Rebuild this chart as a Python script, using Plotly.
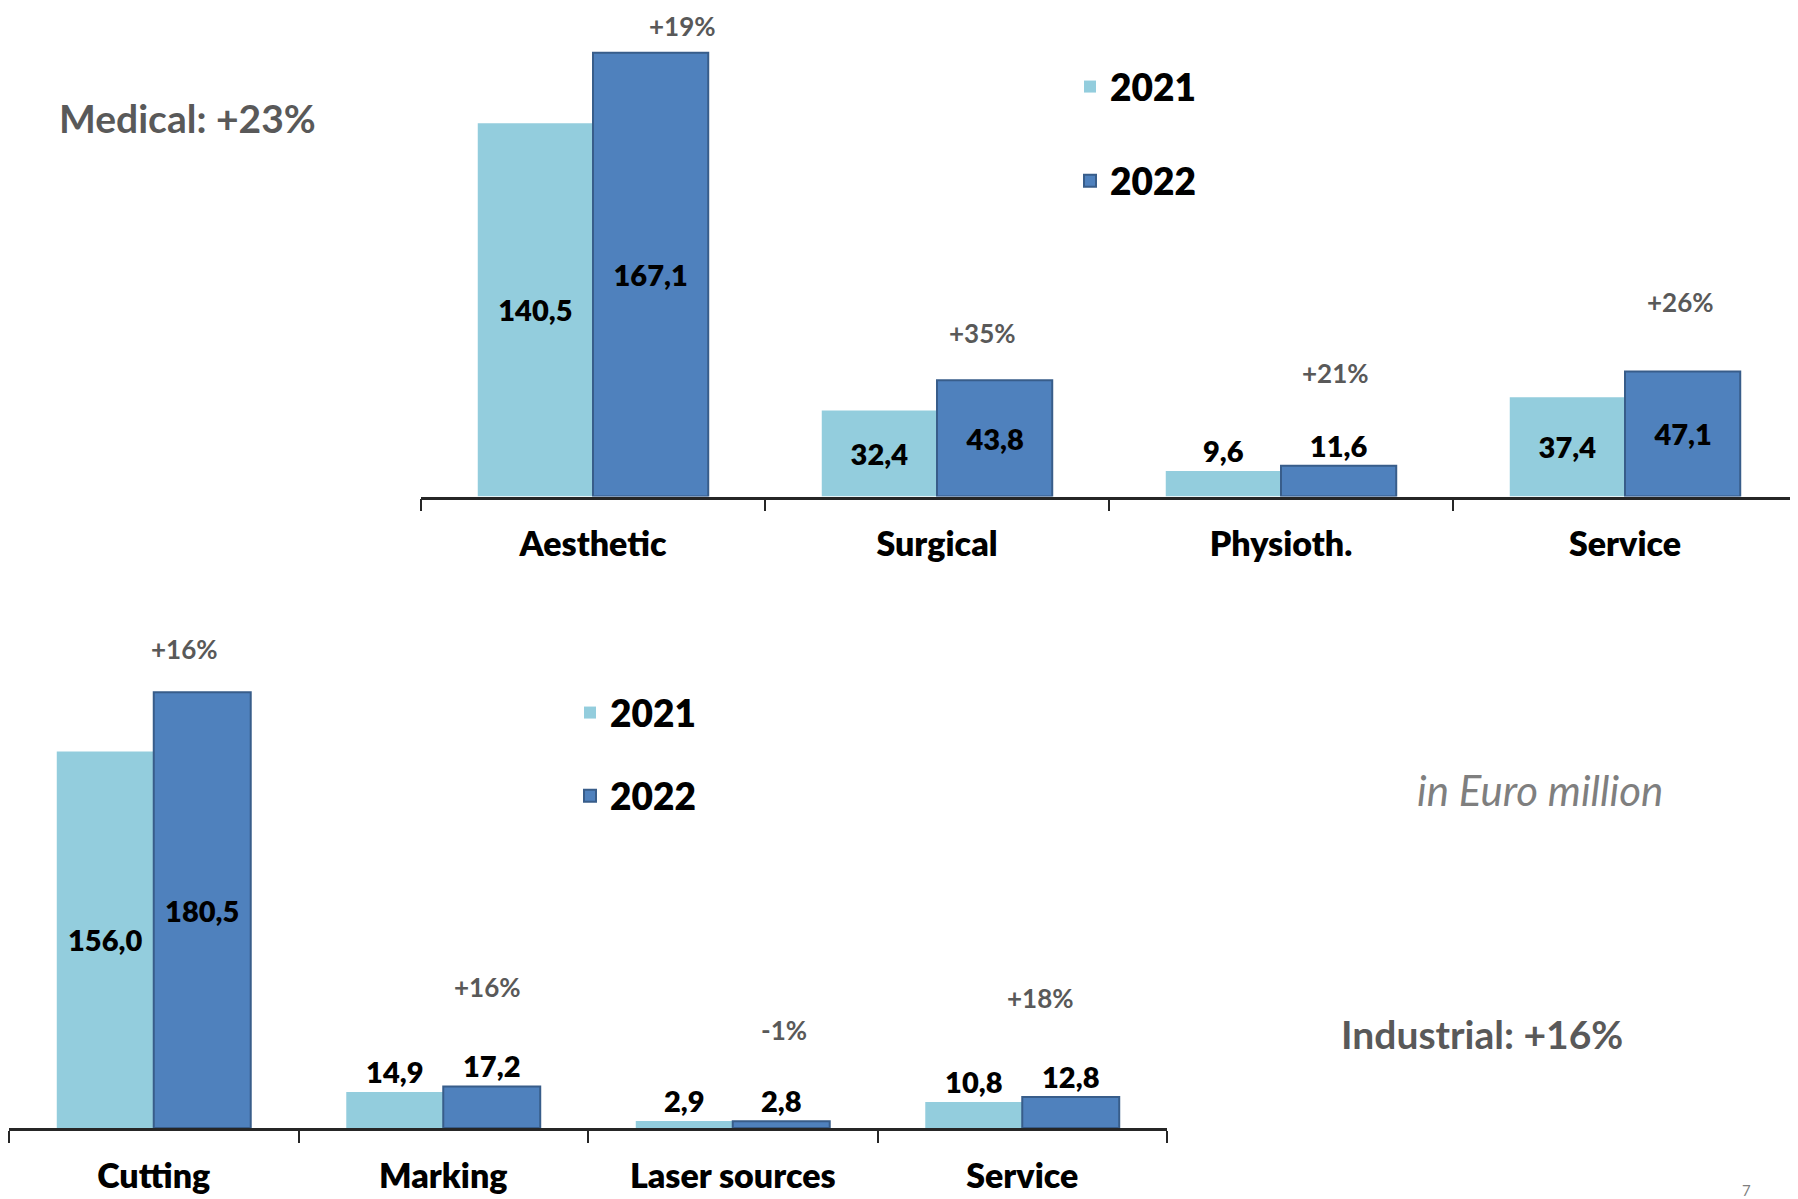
import plotly.graph_objects as go

# ---------------- data ----------------
med_categories = ["Aesthetic", "Surgical", "Physioth.", "Service"]
med_2021 = [140.5, 32.4, 9.6, 37.4]
med_2022 = [167.1, 43.8, 11.6, 47.1]
med_growth = ["+19%", "+35%", "+21%", "+26%"]

ind_categories = ["Cutting", "Marking", "Laser sources", "Service"]
ind_2021 = [156.0, 14.9, 2.9, 10.8]
ind_2022 = [180.5, 17.2, 2.8, 12.8]
ind_growth = ["+16%", "+16%", "-1%", "+18%"]

years = ["2021", "2022"]

# ---------------- styles / positions ----------------
C21 = "#93CDDD"
C22 = "#4F81BD"
C22_LINE = "#385D8A"
GREY = "#595959"
FONT = "Lato"
W = 1798
H = 1199
OFF = 8  # page body margin


def px_x(x):
    return (x - OFF) / W


def px_y(y):
    return 1 - (y - OFF) / H


med_text_pos_21 = ["inside", "inside", "outside", "inside"]
med_text_pos_22 = ["inside", "inside", "outside", "inside"]
ind_text_pos_21 = ["inside", "outside", "outside", "outside"]
ind_text_pos_22 = ["inside", "outside", "outside", "outside"]

# growth-label placement (category offset, height in axis units)
med_growth_dx = [0.26, 0.133, 0.157, 0.16]
med_growth_y = [177.0, 61.7, 46.6, 73.4]
ind_growth_dx = [0.105, 0.154, 0.178, 0.063]
ind_growth_y = [198.6, 58.4, 40.4, 53.7]

label_font = dict(family=FONT, size=29, color="black", weight=800)
growth_font = dict(family=FONT, size=26, color=GREY, weight=700)

fig = go.Figure()


def add_bars(cats, v21, v22, pos21, pos22, xa, ya, legend):
    fig.add_trace(go.Bar(
        x=cats, y=v21, name=years[0], xaxis=xa, yaxis=ya, legend=legend,
        legendgroup=legend + "a",
        marker=dict(color=C21, line=dict(width=0)),
        texttemplate="%{y:.1f}", textposition=pos21, insidetextanchor="middle",
        textfont=label_font, insidetextfont=label_font, outsidetextfont=label_font,
        constraintext="none", cliponaxis=False, hoverinfo="skip",
    ))
    fig.add_trace(go.Bar(
        x=cats, y=v22, name=years[1], xaxis=xa, yaxis=ya, legend=legend,
        legendgroup=legend + "b",
        marker=dict(color=C22, line=dict(width=2, color=C22_LINE)),
        texttemplate="%{y:.1f}", textposition=pos22, insidetextanchor="middle",
        textfont=label_font, insidetextfont=label_font, outsidetextfont=label_font,
        constraintext="none", cliponaxis=False, hoverinfo="skip",
    ))


add_bars(med_categories, med_2021, med_2022, med_text_pos_21, med_text_pos_22,
         "x", "y", "legend")
add_bars(ind_categories, ind_2021, ind_2022, ind_text_pos_21, ind_text_pos_22,
         "x2", "y2", "legend2")

annotations = []
for i, (t, dx, yv) in enumerate(zip(med_growth, med_growth_dx, med_growth_y)):
    annotations.append(dict(x=i + dx, y=yv, xref="x", yref="y", text=t,
                            showarrow=False, font=growth_font))
for i, (t, dx, yv) in enumerate(zip(ind_growth, ind_growth_dx, ind_growth_y)):
    annotations.append(dict(x=i + dx, y=yv, xref="x2", yref="y2", text=t,
                            showarrow=False, font=growth_font))

annotations += [
    dict(x=px_x(57), y=px_y(118), xref="paper", yref="paper", xanchor="left", yanchor="middle",
         text="Medical: +23%", showarrow=False,
         font=dict(family=FONT, size=39, color=GREY, weight=700)),
    dict(x=px_x(1339), y=px_y(1034), xref="paper", yref="paper", xanchor="left", yanchor="middle",
         text="Industrial: +16%", showarrow=False,
         font=dict(family=FONT, size=39, color=GREY, weight=700)),
    dict(x=px_x(1415), y=px_y(790), xref="paper", yref="paper", xanchor="left", yanchor="middle",
         text="<i>in Euro million</i>", showarrow=False,
         font=dict(family=FONT, size=42, color="#7F7F7F")),
    dict(x=px_x(1746), y=px_y(1190), xref="paper", yref="paper", xanchor="center", yanchor="middle",
         text="7", showarrow=False,
         font=dict(family=FONT, size=15, color="#7F7F7F")),
]

xaxis_common = dict(
    type="category", showline=True, linecolor="#262626", linewidth=2.5,
    ticks="outside", tickson="boundaries", ticklen=12, tickwidth=2, tickcolor="#262626",
    showgrid=False, zeroline=False, fixedrange=True, ticklabelstandoff=16,
    tickfont=dict(family=FONT, size=34, color="black", weight=800),
)
yaxis_common = dict(visible=False, showgrid=False, zeroline=False, fixedrange=True)

legend_common = dict(
    font=dict(family=FONT, size=37, color="black", weight=800),
    bgcolor="rgba(0,0,0,0)", borderwidth=0, traceorder="grouped",
    xanchor="left", yanchor="top", itemclick=False, itemdoubleclick=False,
)

fig.update_layout(
    width=W, height=H,
    margin=dict(l=0, r=0, t=0, b=0),
    paper_bgcolor="white", plot_bgcolor="rgba(0,0,0,0)",
    separators=",.",
    barmode="group", bargap=0.33, bargroupgap=0,
    xaxis=dict(domain=[px_x(421), px_x(1797)], anchor="y", **xaxis_common),
    yaxis=dict(domain=[px_y(496.5), 1.0], range=[0, 183.9], anchor="x", **yaxis_common),
    xaxis2=dict(domain=[px_x(9), px_x(1167)], anchor="y2", **xaxis_common),
    yaxis2=dict(domain=[px_y(1128), 0.5], range=[0, 215.6], anchor="x2", **yaxis_common),
    legend=dict(x=px_x(1070), y=px_y(56), tracegroupgap=43, **legend_common),
    legend2=dict(x=px_x(570), y=px_y(682), tracegroupgap=32, **legend_common),
    annotations=annotations,
    showlegend=True,
)

fig.write_html("out.html")
